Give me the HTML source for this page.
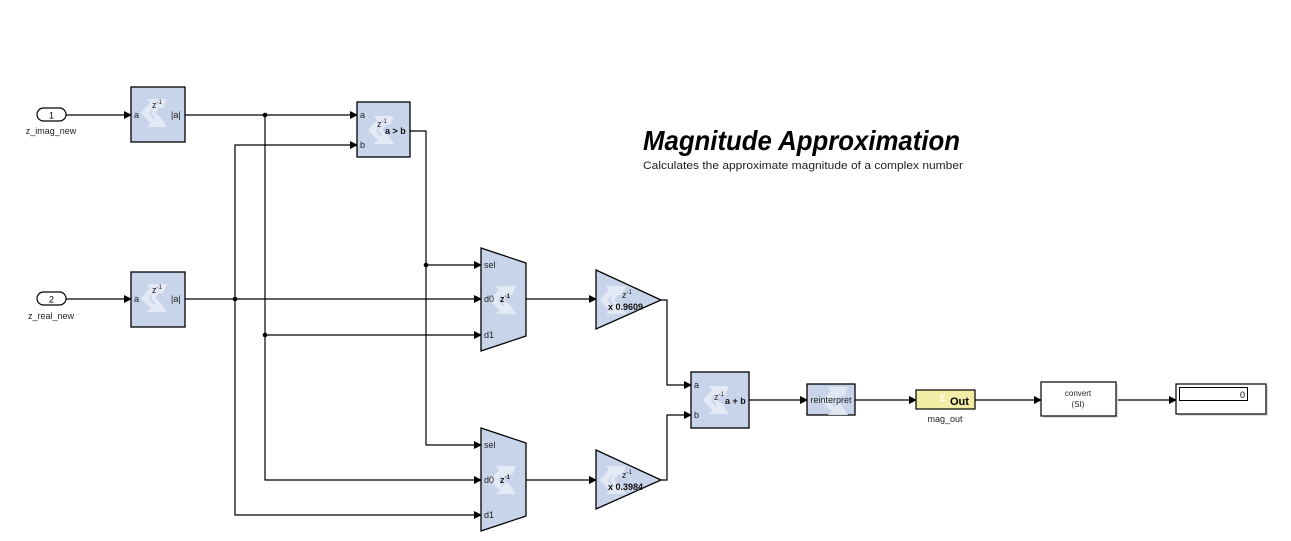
<!DOCTYPE html>
<html><head><meta charset="utf-8"><style>
html,body{margin:0;padding:0;background:#fff;}
svg{display:block;font-family:"Liberation Sans",Arial,sans-serif;}
</style></head><body>
<svg width="1291" height="541" viewBox="0 0 1291 541" xmlns="http://www.w3.org/2000/svg">
<defs>
<marker id="ar" markerWidth="8" markerHeight="8" refX="7" refY="4" orient="auto" markerUnits="userSpaceOnUse">
<path d="M0,0 L8,4 L0,8 z" fill="#000"/></marker>
<g id="logo" fill="#e4eaf5">
<polygon points="6,0 26,0 18,9 12,9"/>
<polygon points="0,14 8,5 14,5 8,14 14,23 8,23"/>
<polygon points="12,9 18,9 14,14 20,19 26,28 6,28 14,19 10,14"/>
<polygon points="18,9 26,0 22,9"/>
</g>
</defs>
<style>
.b{fill:#c8d4ea;stroke:#000;stroke-width:1.3}
.w{fill:none;stroke:#000;stroke-width:1.2}
.t{font-size:9px;fill:#222}
.tb{font-size:9px;font-weight:bold;fill:#111}
</style>

<!-- title -->
<text x="643" y="150" font-size="28" font-weight="bold" font-style="italic" textLength="317" lengthAdjust="spacingAndGlyphs">Magnitude Approximation</text>
<text x="643" y="169" font-size="11" fill="#222" textLength="320" lengthAdjust="spacingAndGlyphs">Calculates the approximate magnitude of a complex number</text>

<!-- inports -->
<rect x="37" y="108" width="29" height="13" rx="6.5" fill="#fff" stroke="#000" stroke-width="1.2"/>
<text x="51.5" y="118.5" font-size="9" text-anchor="middle">1</text>
<text x="51" y="134" font-size="9" text-anchor="middle" fill="#222">z_imag_new</text>
<rect x="37" y="292" width="29" height="13" rx="6.5" fill="#fff" stroke="#000" stroke-width="1.2"/>
<text x="51.5" y="302.5" font-size="9" text-anchor="middle">2</text>
<text x="51" y="319" font-size="9" text-anchor="middle" fill="#222">z_real_new</text>

<!-- wires -->
<g class="w" marker-end="url(#ar)">
<path d="M66,115 H131"/>
<path d="M66,299 H131"/>
<path d="M185,115 H357"/>
<path d="M235,299 V145 H357"/>
<path d="M185,299 H481"/>
<path d="M410,131 H426 V265 H481"/>
<path d="M426,265 V445 H481"/>
<path d="M265,115 V335 H481"/>
<path d="M265,335 V480 H481"/>
<path d="M235,299 V515 H481"/>
<path d="M526,299 H596"/>
<path d="M526,480 H596"/>
<path d="M661,300 H667 V385 H691"/>
<path d="M661,480 H667 V415 H691"/>
<path d="M749,400 H807"/>
<path d="M855,400 H916"/>
<path d="M975,400 H1041"/>
<path d="M1116,400 H1176"/>
</g>
<g fill="#000">
<circle cx="265" cy="115" r="2.3"/>
<circle cx="235" cy="299" r="2.3"/>
<circle cx="265" cy="335" r="2.3"/>
<circle cx="426" cy="265" r="2.3"/>
</g>

<!-- abs blocks -->
<rect class="b" x="131" y="87" width="54" height="55"/>
<use href="#logo" x="141" y="99"/>
<text class="t" x="134" y="118">a</text><text class="t" x="152" y="108" font-size="9">z<tspan font-size="6" dy="-4">-1</tspan></text>
<text class="t" x="171" y="118">|a|</text>
<rect class="b" x="131" y="272" width="54" height="55"/>
<use href="#logo" x="141" y="284"/>
<text class="t" x="134" y="302">a</text><text class="t" x="152" y="293">z<tspan font-size="6" dy="-4">-1</tspan></text>
<text class="t" x="171" y="302">|a|</text>

<!-- compare -->
<rect class="b" x="357" y="102" width="53" height="55"/>
<use href="#logo" x="368" y="116"/>
<text class="t" x="360" y="118">a</text><text class="t" x="360" y="148">b</text>
<text class="t" x="377" y="127">z<tspan font-size="6" dy="-4">-1</tspan></text>
<text class="tb" x="385" y="134">a &gt; b</text>

<!-- muxes -->
<polygon class="b" points="481,248 526,263 526,336 481,351"/>
<use href="#logo" x="490" y="286"/>
<text class="t" x="484" y="268">sel</text><text class="t" x="484" y="302">d0</text><text class="t" x="484" y="338">d1</text>
<text class="tb" x="500" y="302">z<tspan font-size="6" dy="-4">-1</tspan></text>
<polygon class="b" points="481,428 526,443 526,516 481,531"/>
<use href="#logo" x="490" y="466"/>
<text class="t" x="484" y="448">sel</text><text class="t" x="484" y="483">d0</text><text class="t" x="484" y="518">d1</text>
<text class="tb" x="500" y="483">z<tspan font-size="6" dy="-4">-1</tspan></text>

<!-- gains -->
<polygon class="b" points="596,270 661,300 596,329"/>
<use href="#logo" x="600" y="286" transform="translate(0,0)"/>
<text class="t" x="622" y="298">z<tspan font-size="6" dy="-4">-1</tspan></text>
<text class="tb" x="608" y="310">x 0.9609</text>
<polygon class="b" points="596,450 661,480 596,509"/>
<use href="#logo" x="600" y="466"/>
<text class="t" x="622" y="478">z<tspan font-size="6" dy="-4">-1</tspan></text>
<text class="tb" x="608" y="490">x 0.3984</text>

<!-- adder -->
<rect class="b" x="691" y="372" width="58" height="56"/>
<use href="#logo" x="703" y="386"/>
<text class="t" x="694" y="388">a</text><text class="t" x="694" y="418">b</text>
<text class="t" x="714" y="400">z<tspan font-size="6" dy="-4">-1</tspan></text>
<text class="tb" x="725" y="404">a + b</text>

<!-- reinterpret -->
<rect class="b" x="807" y="384" width="48" height="31"/>
<use href="#logo" x="822" y="387" transform="" opacity="0.9"/>
<text class="t" x="831" y="403" text-anchor="middle">reinterpret</text>

<!-- Out -->
<rect x="916" y="390" width="59" height="19" fill="#f2eca6" stroke="#000" stroke-width="1.2"/>
<text x="940" y="401" font-size="9" fill="#fff" font-weight="bold">Σ</text>
<text x="950" y="405" font-size="11" font-weight="bold">Out</text>
<text x="945" y="422" font-size="9" text-anchor="middle" fill="#222">mag_out</text>

<!-- convert -->
<rect x="1043" y="384" width="75" height="34" fill="#ddd"/>
<rect x="1041" y="382" width="75" height="34" fill="#fff" stroke="#000" stroke-width="1.2"/>
<text x="1078" y="396" font-size="8" text-anchor="middle" fill="#222">convert</text>
<text x="1078" y="407" font-size="8" text-anchor="middle" fill="#222">(SI)</text>

<!-- display -->
<rect x="1178" y="386" width="90" height="30" fill="#ddd"/>
<rect x="1176" y="384" width="90" height="30" fill="#fff" stroke="#000" stroke-width="1.2"/>
<rect x="1179.5" y="387.5" width="68" height="13" fill="#fff" stroke="#000" stroke-width="1"/>
<text x="1245" y="398" font-size="9" text-anchor="end">0</text>
</svg>
</body></html>
